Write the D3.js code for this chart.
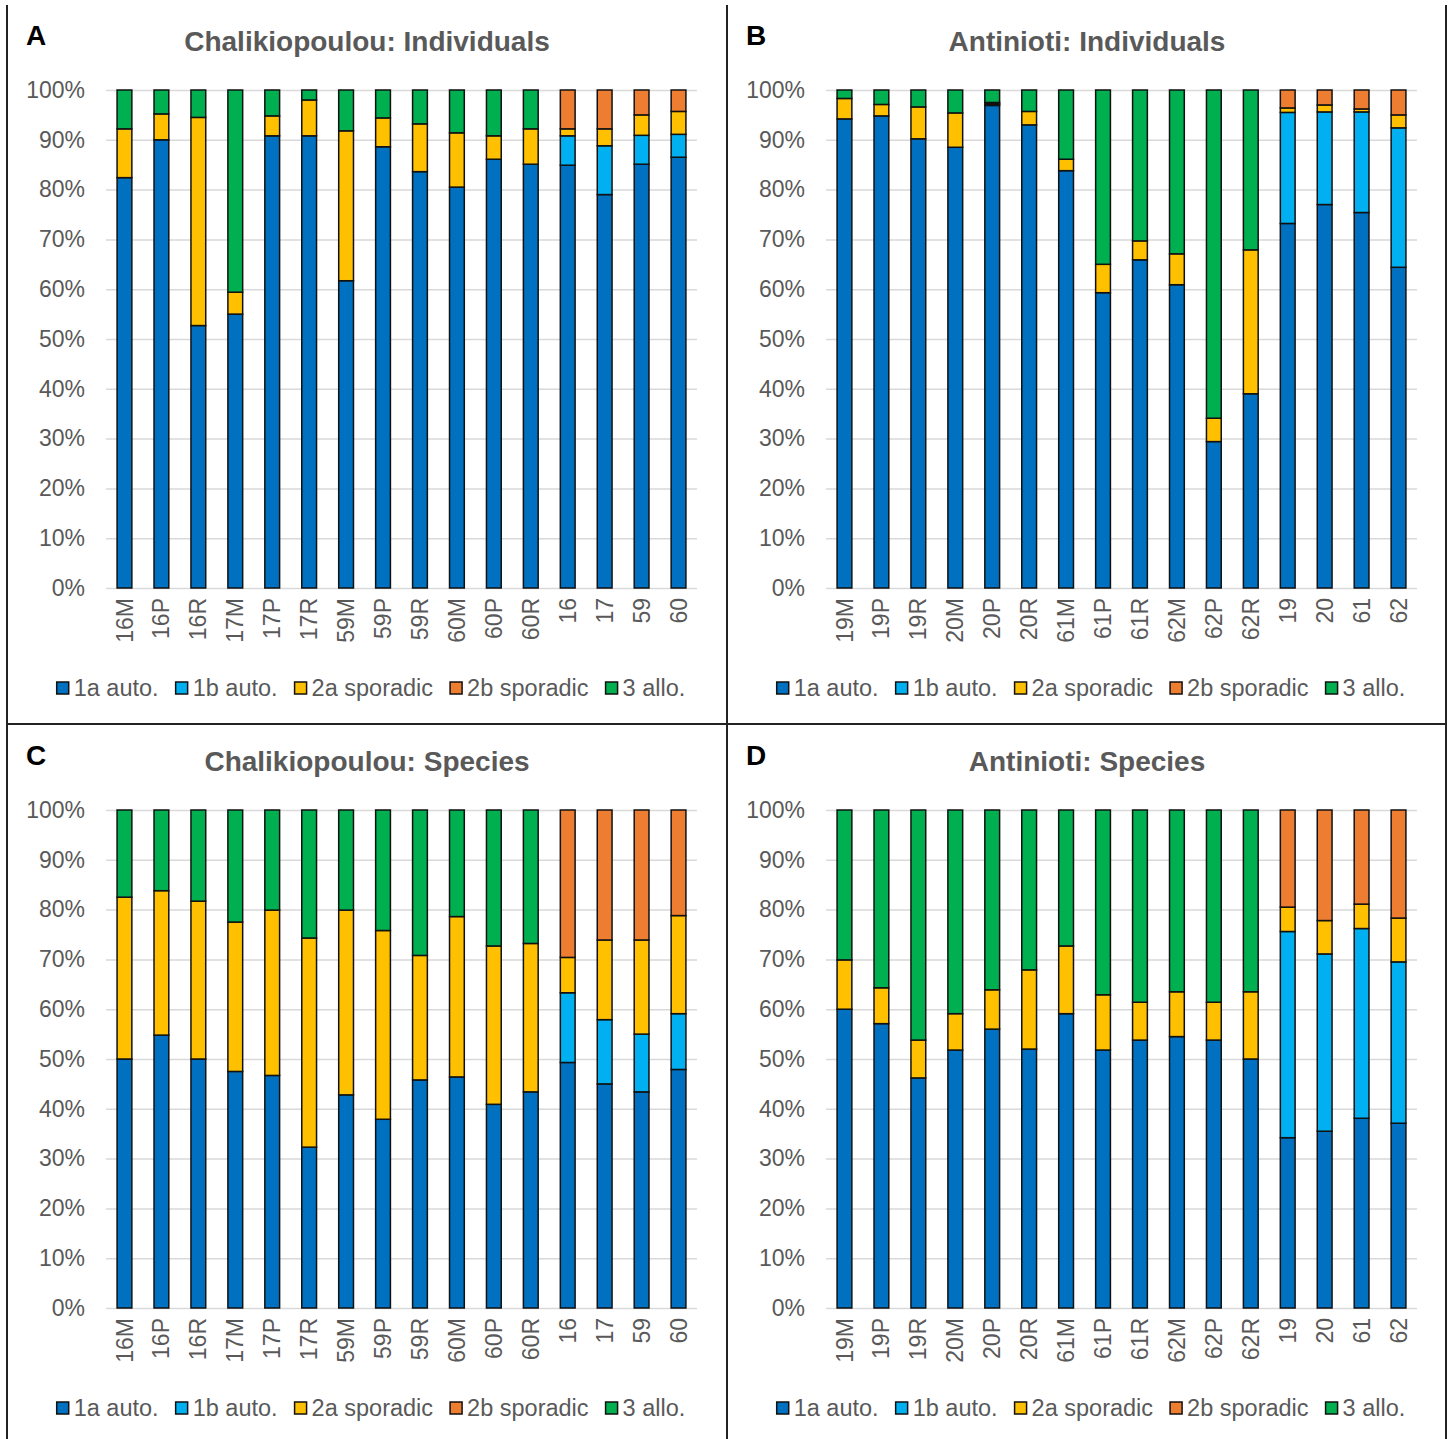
<!DOCTYPE html>
<html>
<head>
<meta charset="utf-8">
<script src="https://cdn.jsdelivr.net/npm/d3@7"></script>
<style>
  body { margin: 0; background: #fff; }
  svg { display: block; }
  text { font-family: "Liberation Sans", Arial, sans-serif; }
</style>
</head>
<body>
<svg id="fig" width="1450" height="1439"></svg>
<script>
// Sampling units on the x axis
const chalSites = ["16M","16P","16R","17M","17P","17R","59M","59P","59R","60M","60P","60R","16","17","59","60"];
const antSites  = ["19M","19P","19R","20M","20P","20R","61M","61P","61R","62M","62P","62R","19","20","61","62"];

// Series definitions
const seriesKeys   = ["1a","1b","2a","2b","3"];
const seriesLabels = ["1a auto.","1b auto.","2a sporadic","2b sporadic","3 allo."];
const seriesColors = ["#0070C0","#00B0F0","#FFC000","#ED7D31","#00B050"];
const yTicks = [0,10,20,30,40,50,60,70,80,90,100];

// A – Chalikiopoulou, individuals (% of total)
const chalInd1a = [82.4,90.0,52.7,55.0,90.8,90.8,61.7,88.6,83.6,80.5,86.1,85.1,84.9,79.0,85.1,86.5];
const chalInd1b = [0,0,0,0,0,0,0,0,0,0,0,0,5.9,9.8,5.8,4.6];
const chalInd2a = [9.8,5.2,41.8,4.4,4.0,7.2,30.1,5.8,9.6,10.9,4.7,7.1,1.4,3.4,4.1,4.6];
const chalInd2b = [0,0,0,0,0,0,0,0,0,0,0,0,7.8,7.8,5.0,4.3];
const chalInd3  = [7.8,4.8,5.5,40.6,5.2,2.0,8.2,5.6,6.8,8.6,9.2,7.8,0,0,0,0];

// B – Antinioti, individuals
const antInd1a = [94.2,94.8,90.2,88.5,96.9,93.0,83.8,59.3,65.9,60.9,29.4,39.0,73.2,77.0,75.4,64.4];
const antInd1b = [0,0,0,0,0,0,0,0,0,0,0,0,22.3,18.6,20.2,28.0];
const antInd2a = [4.1,2.3,6.4,6.9,0.3,2.7,2.3,5.7,3.8,6.2,4.7,28.9,0.9,1.4,0.6,2.6];
const antInd2b = [0,0,0,0,0.3,0,0,0,0,0,0,0,3.6,3.0,3.8,5.0];
const antInd3  = [1.7,2.9,3.4,4.6,2.5,4.3,13.9,35.0,30.3,32.9,65.9,32.1,0,0,0,0];

// C – Chalikiopoulou, species
const chalSp1a = [50.0,54.8,50.0,47.5,46.7,32.3,42.8,37.9,45.8,46.4,40.9,43.4,49.3,45.0,43.4,47.9];
const chalSp1b = [0,0,0,0,0,0,0,0,0,0,0,0,14.0,12.9,11.6,11.2];
const chalSp2a = [32.5,29.0,31.7,30.0,33.2,42.0,37.1,37.9,25.0,32.2,31.8,29.8,7.1,16.0,18.9,19.7];
const chalSp2b = [0,0,0,0,0,0,0,0,0,0,0,0,29.6,26.1,26.1,21.2];
const chalSp3  = [17.5,16.2,18.3,22.5,20.1,25.7,20.1,24.2,29.2,21.4,27.3,26.8,0,0,0,0];

// D – Antinioti, species
const antSp1a = [60.0,57.1,46.2,51.8,56.0,52.0,59.1,51.8,53.8,54.5,53.8,50.0,34.2,35.5,38.1,37.1];
const antSp1b = [0,0,0,0,0,0,0,0,0,0,0,0,41.4,35.6,38.1,32.4];
const antSp2a = [9.9,7.2,7.6,7.3,7.9,15.9,13.6,11.1,7.6,9.0,7.6,13.5,4.9,6.7,4.9,8.8];
const antSp2b = [0,0,0,0,0,0,0,0,0,0,0,0,19.5,22.2,18.9,21.7];
const antSp3  = [30.1,35.7,46.2,40.9,36.1,32.1,27.3,37.1,38.6,36.5,38.6,36.5,0,0,0,0];

const panels = [
  { letter: "A", title: "Chalikiopoulou: Individuals", cats: chalSites,
    series: [chalInd1a, chalInd1b, chalInd2a, chalInd2b, chalInd3], ox: 0, oy: 0 },
  { letter: "B", title: "Antinioti: Individuals", cats: antSites,
    series: [antInd1a, antInd1b, antInd2a, antInd2b, antInd3], ox: 720, oy: 0 },
  { letter: "C", title: "Chalikiopoulou: Species", cats: chalSites,
    series: [chalSp1a, chalSp1b, chalSp2a, chalSp2b, chalSp3], ox: 0, oy: 720 },
  { letter: "D", title: "Antinioti: Species", cats: antSites,
    series: [antSp1a, antSp1b, antSp2a, antSp2b, antSp3], ox: 720, oy: 720 }
];

const svg = d3.select("#fig");
const textGrey = "#595959";
const fontStack = '"Liberation Sans", Arial, sans-serif';
const plot = { left: 106, right: 697, top: 90, bottom: 588 };

function drawPanel(p) {
  const g = svg.append("g").attr("transform", `translate(${p.ox},${p.oy})`);

  const x = d3.scaleBand().domain(p.cats)
    .range([plot.left, plot.right]).paddingInner(0.6).paddingOuter(0.3);
  const y = d3.scaleLinear().domain([0, 100]).range([plot.bottom, plot.top]);

  // horizontal gridlines
  g.append("g")
    .attr("transform", `translate(${plot.left},0)`)
    .call(d3.axisLeft(y).tickValues(yTicks).tickSize(-(plot.right - plot.left)).tickFormat(""))
    .call(a => a.select(".domain").remove())
    .call(a => a.selectAll("line").attr("stroke", "#d9d9d9").attr("stroke-width", 1.5));

  // y tick labels
  g.append("g")
    .attr("transform", `translate(${plot.left},0)`)
    .call(d3.axisLeft(y).tickValues(yTicks).tickSize(0).tickPadding(21).tickFormat(d => d + "%"))
    .call(a => a.select(".domain").remove())
    .call(a => a.selectAll("text")
      .attr("fill", textGrey).style("font-size", "23px").style("font-family", fontStack));

  // stacked bars
  const rows = p.cats.map((c, i) => {
    const r = { cat: c };
    seriesKeys.forEach((k, j) => { r[k] = p.series[j][i]; });
    return r;
  });
  const stacked = d3.stack().keys(seriesKeys)(rows);

  g.append("g").selectAll("g")
    .data(stacked)
    .join("g")
    .attr("fill", (d, i) => seriesColors[i])
    .selectAll("rect")
    .data(d => d.filter(s => s[1] - s[0] > 0))
    .join("rect")
    .attr("x", d => x(d.data.cat))
    .attr("width", x.bandwidth())
    .attr("y", d => y(d[1]))
    .attr("height", d => y(d[0]) - y(d[1]))
    .attr("stroke", "#111")
    .attr("stroke-width", 1.5);

  // x axis labels (rotated)
  g.append("g")
    .attr("transform", `translate(0,${plot.bottom})`)
    .call(d3.axisBottom(x).tickSize(0))
    .call(a => a.select(".domain").remove())
    .call(a => a.selectAll("text")
      .attr("fill", textGrey).style("font-size", "23px").style("font-family", fontStack)
      .attr("transform", "rotate(-90)")
      .attr("x", -10).attr("y", 0).attr("dy", "0.35em")
      .style("text-anchor", "end"));

  // panel letter and title
  g.append("text").attr("x", 26).attr("y", 45)
    .attr("font-size", 28).attr("font-weight", "bold").attr("fill", "#000")
    .text(p.letter);
  g.append("text").attr("x", 367).attr("y", 51)
    .attr("text-anchor", "middle")
    .attr("font-size", 28).attr("font-weight", "bold").attr("fill", textGrey)
    .text(p.title);

  // legend
  const leg = g.append("g");
  let cx = 0;
  seriesLabels.forEach((lab, i) => {
    const it = leg.append("g").attr("transform", `translate(${cx},0)`);
    it.append("rect").attr("x", 0).attr("y", 682).attr("width", 12).attr("height", 12)
      .attr("fill", seriesColors[i]).attr("stroke", "#111").attr("stroke-width", 1.5);
    const t = it.append("text").attr("x", 17).attr("y", 696)
      .attr("font-size", 23.5).attr("fill", textGrey).text(lab);
    cx += 17 + t.node().getComputedTextLength() + 17;
  });
  const legW = cx - 17;
  leg.attr("transform", `translate(${371 - legW / 2},0)`);
}

panels.forEach(drawPanel);

// panel frame lines
const frame = svg.append("g").attr("stroke", "#222").attr("stroke-width", 2);
frame.append("line").attr("x1", 7).attr("x2", 7).attr("y1", 5).attr("y2", 1439);
frame.append("line").attr("x1", 1446).attr("x2", 1446).attr("y1", 5).attr("y2", 1439);
frame.append("line").attr("x1", 727).attr("x2", 727).attr("y1", 5).attr("y2", 1439);
frame.append("line").attr("x1", 7).attr("x2", 1446).attr("y1", 724).attr("y2", 724);
</script>
</body>
</html>
